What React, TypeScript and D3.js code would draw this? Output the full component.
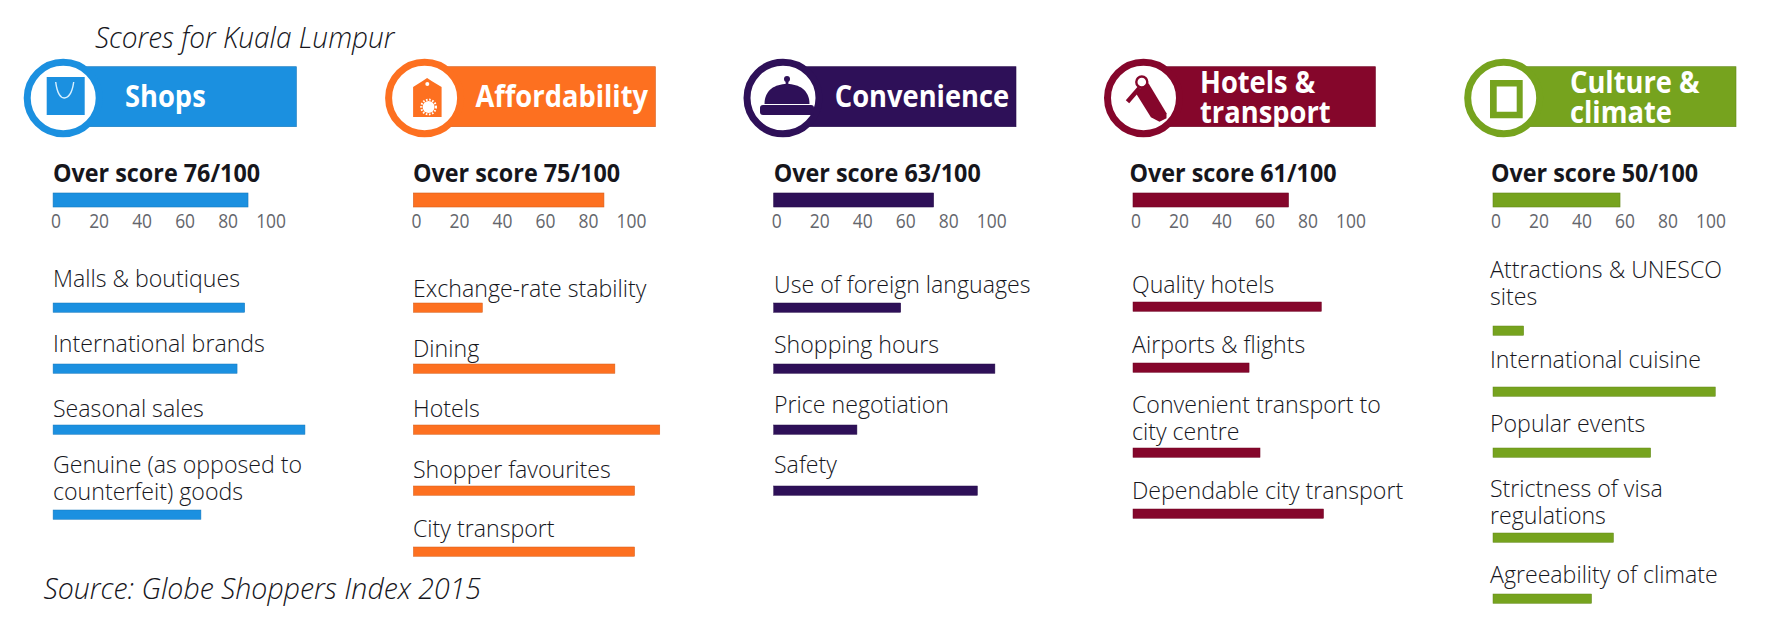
import * as d3 from "d3";

const categories = ["Shops", "Affordability", "Convenience", "Hotels & transport", "Culture & climate"];
const overallScores = [76, 75, 63, 61, 50];
// bars in the source do not agree with their printed score, so they are read off the axis
const overallBars = [89, 87, 73, 71, 58];
const axisTicks = [0, 20, 40, 60, 80, 100];

const shopItems = ["Malls & boutiques", "International brands", "Seasonal sales", "Genuine (as opposed to|counterfeit) goods"];
const shopValues = [87.5, 84, 115, 67.5];
const affordItems = ["Exchange-rate stability", "Dining", "Hotels", "Shopper favourites", "City transport"];
const affordValues = [31.5, 92, 112.5, 101, 101];
const convenienceItems = ["Use of foreign languages", "Shopping hours", "Price negotiation", "Safety"];
const convenienceValues = [58, 101, 38, 93];
const hotelItems = ["Quality hotels", "Airports & flights", "Convenient transport to|city centre", "Dependable city transport"];
const hotelValues = [86, 53, 58, 87];
const cultureItems = ["Attractions & UNESCO|sites", "International cuisine", "Popular events", "Strictness of visa|regulations", "Agreeability of climate"];
const cultureValues = [14, 101.5, 72, 55, 45];

const items = [shopItems, affordItems, convenienceItems, hotelItems, cultureItems];
const values = [shopValues, affordValues, convenienceValues, hotelValues, cultureValues];

const COLORS = ["#1b90e0", "#fd7020", "#2e1058", "#85062b", "#76a31e"];

// layout per column
const barLeft = [53.1, 413.4, 773.7, 1133, 1493];
const scoreLeft = [53, 413, 773.7, 1129.5, 1491];
const labelLeft = [53, 413, 774, 1132, 1490];
const circleX = [63.2, 424.6, 783, 1143.5, 1503.7];
const bannerRight = [296.4, 655.4, 1016, 1375.4, 1736];
const titleX = [125, 475.4, 834.8, 1200, 1570];
const firstBarY = [303, 303, 303, 302, 302];
const labelY = [
  [287.3, 352.3, 416.7, 472.7],
  [296.7, 356.7, 416.7, 477.7, 537.3],
  [293.3, 353.3, 413.3, 473.3],
  [293.3, 353.3, 413.3, 499.3],
  [278.3, 368.3, 432.3, 497.3, 583.3],
];

const FONT = "'Open Sans', sans-serif";
const INK = "#16161c";

const x = d3.scaleLinear().domain([0, 100]).range([0, 219]);
// the printed axis runs a little tighter than the bars
const tickX = d3.scaleLinear().domain([0, 100]).range([3, 218]);

function T({ x: px, y, size, weight = 400, sx = 1, fill = INK, italic = false, anchor = "start", children }: any) {
  return (
    <text
      transform={`translate(${px},${y}) scale(${sx},1)`}
      fontFamily={FONT}
      fontSize={size}
      fontWeight={weight}
      fontStyle={italic ? "italic" : "normal"}
      fill={fill}
      textAnchor={anchor}
    >
      {children}
    </text>
  );
}

function Icon({ index, color }: { index: number; color: string }) {
  if (index === 0) {
    return (
      <g>
        <rect x={-16.5} y={-21} width={38} height={38} fill={color} />
        <path d="M-7.5,-16 C-6,-4 -2,0 1,0 C5,0 9,-5 10.5,-16" fill="none" stroke="#d8f0ff" strokeWidth={1.4} />
      </g>
    );
  }
  if (index === 1) {
    return (
      <g>
        <path d="M-11.5,-11 L-2,-17 L2.5,-20 L7,-17 L17,-11 L17,19 L-11.5,19 Z" fill={color} />
        <circle cx={2.7} cy={-14} r={2} fill="#fff" />
        <circle cx={4} cy={9} r={6} fill="#fff" />
        <circle cx={4} cy={9} r={7.4} fill="none" stroke="#fff" strokeWidth={2} strokeDasharray="1.6 1.6" />
      </g>
    );
  }
  if (index === 2) {
    return (
      <g>
        <circle cx={4} cy={-19} r={3} fill={color} />
        <rect x={2.6} y={-18} width={2.8} height={6} fill={color} />
        <path d="M-18.5,6 C-18.5,-8 -8,-14 4,-14 C16,-14 26.5,-8 26.5,6 Z" fill={color} />
        <rect x={-23} y={7} width={54} height={10} rx={3} fill={color} />
      </g>
    );
  }
  if (index === 3) {
    return (
      <g>
        <circle cx={-1.7} cy={-16} r={5.5} fill="none" stroke={color} strokeWidth={2.4} />
        <path d="M-8.5,-6.3 L5,-14.7 L23,15.3 L23,20.3 L16,23.7 L7.4,19.3 Z" fill={color} />
        <path d="M-4,-10 L-16,3.7" stroke={color} strokeWidth={4.5} />
      </g>
    );
  }
  return (
    <path
      d="M-13.7,-18 H19 V20.3 H-13.7 Z M-7,-11.5 V13.7 H13 V-11.5 Z"
      fill={color}
      fillRule="evenodd"
    />
  );
}

function Column({ index }: { index: number }) {
  const color = COLORS[index];
  const edge = d3.color(color)!.darker(0.5).formatHex();
  const left = barLeft[index];
  const cx = circleX[index];
  const titleLines = categories[index].includes("&") ? categories[index].replace("& ", "&|").split("|") : [categories[index]];

  // every wrapped label pushes its own bar and the ones below it down
  let extraLines = 0;
  const rows = items[index].map((item, i) => {
    const lines = item.split("|");
    extraLines += lines.length - 1;
    return { lines, value: values[index][i], barY: firstBarY[index] + 61 * i + 24 * extraLines, textY: labelY[index][i] };
  });

  return (
    <g>
      <rect x={cx} y={66.7} width={bannerRight[index] - cx} height={60} fill={color} stroke={edge} strokeWidth={0.6} />
      <ellipse cx={cx} cy={98} rx={36} ry={35.8} fill="#fff" stroke={color} strokeWidth={7} />
      <g transform={`translate(${cx},98)`}>
        <Icon index={index} color={color} />
      </g>
      {titleLines.length === 1 ? (
        <T x={titleX[index]} y={107} size={30} weight={700} sx={0.91} fill="#fff">
          {titleLines[0]}
        </T>
      ) : (
        titleLines.map((line, i) => (
          <T key={line} x={titleX[index]} y={93.3 + i * 30} size={30} weight={700} sx={0.91} fill="#fff">
            {line}
          </T>
        ))
      )}

      <T x={scoreLeft[index]} y={181.7} size={25.5} weight={700} sx={0.915}>
        {`Over score ${overallScores[index]}/100`}
      </T>
      <rect x={left} y={193} width={x(overallBars[index])} height={14} fill={color} stroke={edge} strokeWidth={0.6} />
      {axisTicks.map((t) => (
        <T key={t} x={left + tickX(t)} y={228.3} size={20.5} sx={0.85} fill="#64666c" anchor="middle">
          {t}
        </T>
      ))}

      {rows.map((row) => (
        <g key={row.lines[0]}>
          {row.lines.map((line, i) => (
            <T key={line} x={labelLeft[index]} y={row.textY + i * 27} size={24.5} weight={300} sx={0.945}>
              {line}
            </T>
          ))}
          <rect x={left} y={row.barY} width={x(row.value)} height={9.3} fill={color} stroke={edge} strokeWidth={0.5} />
        </g>
      ))}
    </g>
  );
}

export default function App() {
  return (
    <svg
      width={1788}
      height={627}
      viewBox="0 0 1788 627"
      style={{ position: "fixed", left: 0, top: 0, background: "#fff" }}
    >
      <T x={95} y={48} size={30} weight={300} sx={0.934} italic>
        Scores for Kuala Lumpur
      </T>
      {categories.map((c, i) => (
        <Column key={c} index={i} />
      ))}
      <T x={43.5} y={599.3} size={29.5} weight={300} sx={0.965} italic>
        Source: Globe Shoppers Index 2015
      </T>
    </svg>
  );
}
